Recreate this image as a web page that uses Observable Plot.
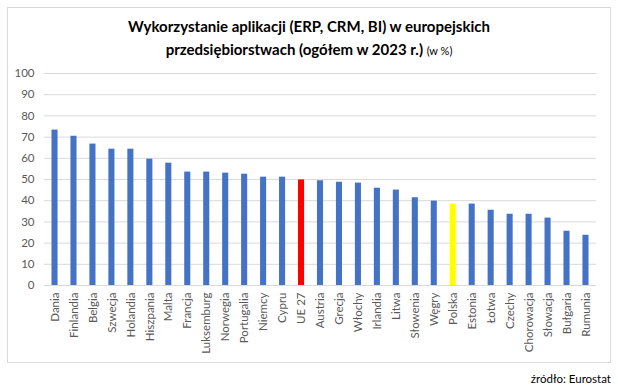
<!DOCTYPE html>
<html><head><meta charset="utf-8">
<script src="https://cdn.jsdelivr.net/npm/d3@7"></script>
<script src="https://cdn.jsdelivr.net/npm/@observablehq/plot@0.6"></script>
<style>
html,body{margin:0;padding:0;background:#fff;width:618px;height:392px;overflow:hidden;font-family:Lato,"Open Sans",sans-serif;}
#frame{position:absolute;left:7px;top:7px;width:602px;height:354px;border:1px solid #d9d9d9;box-sizing:content-box;}
#title{position:absolute;left:0;top:15px;width:618px;text-align:center;font-weight:bold;font-size:15px;line-height:23px;color:#000;}
#title small{font-weight:normal;font-size:11px;}
#chart{position:absolute;left:0;top:0;}
#caption{position:absolute;right:7px;top:372px;font-size:11.5px;color:#000;}
</style></head>
<body>
<div id="frame"></div>
<div id="chart"></div>
<div id="title">Wykorzystanie aplikacji (ERP, CRM, BI) w europejskich<br>przedsiębiorstwach (ogółem w 2023 r.) <small>(w %)</small></div>
<div id="caption">źródło: Eurostat</div>
<script>
const countries = ["Dania","Finlandia","Belgia","Szwecja","Holandia","Hiszpania","Malta","Francja","Luksemburg","Norwegia","Portugalia","Niemcy","Cypru","UE 27","Austria","Grecja","Włochy","Irlandia","Litwa","Słowenia","Węgry","Polska","Estonia","Łotwa","Czechy","Chorowacja","Słowacja","Bułgaria","Rumunia"];
const values = [73.3,70.4,66.7,64.3,64.3,59.6,57.7,53.5,53.5,53.0,52.5,51.1,51.1,49.8,49.4,48.7,48.3,45.9,45.0,41.4,39.8,38.4,38.4,35.5,33.6,33.6,31.8,25.6,23.7];
const highlight = {"UE 27":"#FF0000","Polska":"#FFFF00"};
const yTicks = [0,10,20,30,40,50,60,70,80,90,100];

const data = countries.map((c,i)=>({country:c,value:values[i],color:highlight[c]||"#4472C4"}));

const chart = Plot.plot({
  width:618, height:362,
  marginTop:73, marginBottom:77, marginLeft:44, marginRight:22,
  style:{fontFamily:"Lato, 'Open Sans', sans-serif", fontSize:"11.5px", color:"#595959", background:"transparent"},
  x:{domain:countries, round:false, paddingInner:0.68, paddingOuter:0.395, label:null, tickSize:0, tickPadding:7, tickRotate:-90},
  y:{domain:[0,100], ticks:yTicks, label:null, tickSize:0, tickPadding:10},
  marks:[
    Plot.gridY(yTicks,{stroke:"#d9d9d9", strokeOpacity:1}),
    Plot.barY(data,{x:"country", y:"value", fill:"color"}),
    Plot.ruleY([0],{stroke:"#d9d9d9"})
  ]
});
document.getElementById("chart").appendChild(chart);
</script>
</body></html>
